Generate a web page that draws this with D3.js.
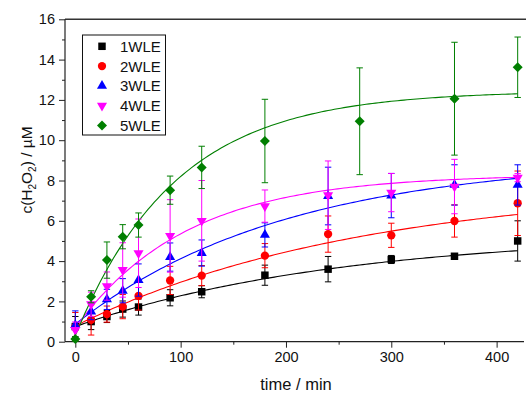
<!DOCTYPE html>
<html>
<head>
<meta charset="utf-8">
<script src="https://cdn.jsdelivr.net/npm/d3@7"></script>
<style>
  body { margin: 0; background: #fff; }
  svg { display: block; font-family: Arial, "Liberation Sans", sans-serif; }
</style>
</head>
<body>
<div id="chart"></div>
<script>
// Sampling times (min)
const time = [0, 15, 30, 45, 60, 90, 120, 180, 240, 300, 360, 420];
const time5 = [0, 15, 30, 45, 60, 90, 120, 180, 270, 360, 420];

// Measured c(H2O2) in µM and their error bars
const wle1 = [0.75, 1.0, 1.25, 1.62, 1.72, 2.18, 2.48, 3.3, 3.6, 4.08, 4.24, 5.0];
const err1 = [0.5, 0.4, 0.3, 0.4, 0.4, 0.4, 0.3, 0.5, 0.63, 0.2, 0.12, 1.0];
const wle2 = [0.75, 1.08, 1.37, 1.74, 2.27, 3.04, 3.28, 4.27, 5.34, 5.28, 5.99, 6.87];
const err2 = [0.7, 0.75, 0.4, 0.6, 0.7, 0.7, 0.5, 0.6, 0.9, 0.6, 0.8, 1.6];
const wle3 = [0.83, 1.49, 2.1, 2.53, 3.06, 4.2, 4.4, 5.3, 7.23, 7.25, 7.78, 7.78];
const err3 = [0.7, 0.4, 0.5, 0.6, 0.8, 0.7, 0.65, 0.6, 1.43, 1.1, 1.0, 1.0];
const wle4 = [0.58, 1.86, 2.76, 3.56, 4.39, 5.25, 6.0, 6.73, 7.27, 7.4, 7.7, 8.14];
const err4 = [0.4, 0.6, 0.7, 1.35, 1.7, 1.8, 2.0, 0.8, 1.7, 0.95, 1.35, 0.2];
const wle5 = [0.13, 2.23, 4.05, 5.21, 5.79, 7.52, 8.65, 9.96, 10.94, 12.06, 13.62];
const err5 = [0.1, 0.3, 0.9, 0.6, 0.6, 0.7, 1.05, 2.07, 2.65, 2.8, 1.5];

// Fit parameters: y = y0 + A * (1 - exp(-k t))
const fitY0 = [0.75, 0.78, 0.87, 0.68, 0.3];
const fitA = [4.63, 7.02, 8.25, 7.62, 12.15];
const fitK = [0.004, 0.0037, 0.005, 0.0095, 0.0105];

const names = ["1WLE", "2WLE", "3WLE", "4WLE", "5WLE"];
const colors = ["#000000", "#ff0000", "#0000ff", "#ff00ff", "#007f00"];

const xTicks = [0, 100, 200, 300, 400];
const yTicks = [0, 2, 4, 6, 8, 10, 12, 14, 16];

const series = [
    { t: time, v: wle1, e: err1 },
    { t: time, v: wle2, e: err2 },
    { t: time, v: wle3, e: err3 },
    { t: time, v: wle4, e: err4 },
    { t: time5, v: wle5, e: err5 }
].map((s, i) => ({
    name: names[i],
    color: colors[i],
    y0: fitY0[i], A: fitA[i], k: fitK[i],
    points: s.t.map((t, j) => ({ t: t, v: s.v[j], e: s.e[j] }))
}));

const W = 526, H = 394;
const svg = d3.select("#chart").append("svg")
    .attr("width", W)
    .attr("height", H);

const x = d3.scaleLinear().domain([-9.8, 426]).range([65, 524]);
const y = d3.scaleLinear().domain([0, 16]).range([341.7, 19.3]);

// Symbol generators
const sym = [
    d3.symbol().type(d3.symbolSquare).size(56),
    d3.symbol().type(d3.symbolCircle).size(54),
    d3.symbol().type(d3.symbolTriangle).size(44),
    d3.symbol().type(d3.symbolTriangle).size(44),
    d3.symbol().type(d3.symbolSquare).size(50)
];
const rot = [0, 0, 0, 180, 45];

// Frame: top and right lines
svg.append("line")
    .attr("x1", 65).attr("x2", 526)
    .attr("y1", y(16)).attr("y2", y(16))
    .attr("stroke", "#333").attr("stroke-width", 1.5);

// Axes
const xAxis = svg.append("g")
    .attr("transform", `translate(0, ${y(0)})`)
    .call(d3.axisBottom(x).tickValues(xTicks).tickSize(6).tickPadding(4));
const xMinor = svg.append("g")
    .attr("transform", `translate(0, ${y(0)})`)
    .call(d3.axisBottom(x).tickValues([50, 150, 250, 350]).tickSize(3).tickFormat(""));

const yAxis = svg.append("g")
    .attr("transform", `translate(65, 0)`)
    .call(d3.axisLeft(y).tickValues(yTicks).tickSize(6).tickPadding(4));
const yMinor = svg.append("g")
    .attr("transform", `translate(65, 0)`)
    .call(d3.axisLeft(y).tickValues(d3.range(1, 16, 2)).tickSize(3).tickFormat(""));

[xAxis, xMinor, yAxis, yMinor].forEach(g => {
    g.select(".domain").attr("stroke", "#222").attr("stroke-width", 1.2);
    g.selectAll(".tick line").attr("stroke", "#222");
    g.selectAll("text")
        .attr("fill", "#111")
        .style("font-size", "14.5px")
        .style("font-family", "Arial, 'Liberation Sans', sans-serif");
});
xAxis.select(".domain").attr("d", `M65,0H524`);
xMinor.select(".domain").remove();
yMinor.select(".domain").remove();
yAxis.select(".domain").attr("d", `M0,${y(0)}V${y(16)}`);

// Axis titles
svg.append("text")
    .attr("x", 296).attr("y", 390)
    .attr("text-anchor", "middle")
    .style("font-size", "16.5px")
    .attr("fill", "#111")
    .text("time / min");

const yl = svg.append("text")
    .attr("transform", "translate(32, 170) rotate(-90)")
    .attr("text-anchor", "middle")
    .style("font-size", "15.5px")
    .attr("fill", "#111");
yl.append("tspan").text("c(H");
yl.append("tspan").attr("dy", 4).style("font-size", "10px").text("2");
yl.append("tspan").attr("dy", -4).text("O");
yl.append("tspan").attr("dy", 4).style("font-size", "10px").text("2");
yl.append("tspan").attr("dy", -4).text(") / µM");

// Fit curves
const line = d3.line()
    .x(d => x(d[0]))
    .y(d => y(d[1]));

const tGrid = d3.range(0, 421, 3);
series.forEach(s => {
    svg.append("path")
        .datum(tGrid.map(t => [t, s.y0 + s.A * (1 - Math.exp(-s.k * t))]))
        .attr("fill", "none")
        .attr("stroke", s.color)
        .attr("stroke-width", 1.1)
        .attr("d", line);
});

// Error bars and markers
series.forEach((s, i) => {
    const g = svg.append("g");
    const eb = g.selectAll(".eb")
        .data(s.points)
        .enter().append("g");
    eb.append("line")
        .attr("x1", d => x(d.t)).attr("x2", d => x(d.t))
        .attr("y1", d => y(d.v - d.e)).attr("y2", d => y(d.v + d.e))
        .attr("stroke", s.color).attr("stroke-width", 1);
    eb.append("line")
        .attr("x1", d => x(d.t) - 3.2).attr("x2", d => x(d.t) + 3.2)
        .attr("y1", d => y(d.v + d.e)).attr("y2", d => y(d.v + d.e))
        .attr("stroke", s.color).attr("stroke-width", 1);
    eb.append("line")
        .attr("x1", d => x(d.t) - 3.2).attr("x2", d => x(d.t) + 3.2)
        .attr("y1", d => y(d.v - d.e)).attr("y2", d => y(d.v - d.e))
        .attr("stroke", s.color).attr("stroke-width", 1);

    g.selectAll(".pt")
        .data(s.points)
        .enter().append("path")
        .attr("d", sym[i]())
        .attr("transform", d => `translate(${x(d.t)}, ${y(d.v)}) rotate(${rot[i]})`)
        .attr("fill", s.color);
});

// Legend
const legend = svg.append("g");
legend.append("rect")
    .attr("x", 82.5).attr("y", 35)
    .attr("width", 83).attr("height", 100)
    .attr("fill", "#fff")
    .attr("stroke", "#111")
    .attr("stroke-width", 1);

series.forEach((s, i) => {
    const ly = 46.3 + i * 19.8;
    legend.append("path")
        .attr("d", sym[i]())
        .attr("transform", `translate(102, ${ly}) rotate(${rot[i]})`)
        .attr("fill", s.color);
    legend.append("text")
        .attr("x", 120).attr("y", ly + 5.5)
        .style("font-size", "15px")
        .attr("fill", "#111")
        .text(s.name);
});
</script>
</body>
</html>
